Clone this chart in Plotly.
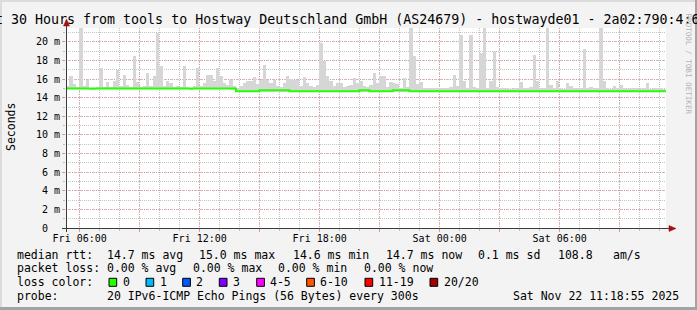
import plotly.graph_objects as go
import pandas as pd

# ---------------- data ----------------
start_time = "2025-11-21 05:18:55"
end_time = "2025-11-22 11:18:55"
step = "10min"

# top of the smoke (max ping per 10-minute step), ms
smoke_max = [
    15.3, 16.3, 15.5, 15.2, 22.5, 15.3, 15.9, 15.1, 15.1, 15.2,
    17.2, 15.2, 15.7, 15.2, 15.8, 17.0, 15.3, 16.5, 15.4, 15.2,
    18.5, 15.7, 15.2, 15.3, 16.7, 15.3, 16.3, 21.0, 17.4, 15.3,
    15.8, 15.6, 15.2, 15.3, 15.2, 17.4, 15.2, 15.1, 15.3, 17.2,
    15.3, 15.6, 16.5, 16.5, 15.8, 17.2, 16.3, 15.6, 15.4, 15.9,
    15.3, 15.0, 15.3, 15.6, 15.8, 15.8, 16.2, 15.5, 15.9, 17.5,
    15.9, 15.6, 15.9, 15.3, 15.2, 15.6, 16.3, 16.0, 15.9, 15.9,
    15.3, 16.2, 15.6, 15.3, 15.2, 15.4, 19.9, 18.0, 16.3, 15.8,
    15.3, 15.6, 15.6, 15.2, 15.3, 15.4, 16.1, 15.6, 15.8, 15.3,
    15.2, 15.4, 16.7, 15.6, 16.3, 16.3, 15.2, 15.7, 15.6, 15.5,
    15.1, 16.1, 15.2, 22.5, 18.5, 15.5, 15.7, 15.1, 15.0, 15.0,
    15.1, 15.0, 15.0, 15.0, 15.1, 15.2, 16.5, 15.3, 20.8, 15.8,
    15.1, 20.8, 15.2, 15.0, 18.8, 22.5, 15.1, 15.8, 19.0, 15.2,
    15.0, 15.0, 15.0, 14.9, 15.0, 15.0, 15.7, 15.1, 15.0, 15.2,
    18.6, 15.8, 15.1, 15.0, 22.5, 15.4, 15.0, 15.8, 15.0, 14.9,
    15.6, 15.3, 15.0, 15.0, 15.1, 19.2, 15.1, 15.2, 15.0, 15.0,
    22.5, 15.8, 15.0, 14.9, 15.3, 15.1, 15.4, 15.0, 14.9, 15.0,
    15.0, 15.0, 14.9, 15.0, 15.6, 14.9, 15.0, 15.0, 15.0, 14.9,
]

# bottom of the smoke (min ping per step), ms
smoke_min = [
    14.9, 14.9, 14.9, 14.9, 14.9, 14.9, 14.9, 14.9, 14.9, 14.9,
    14.9, 14.9, 14.9, 14.9, 14.9, 14.9, 14.9, 14.9, 14.9, 14.9,
    14.9, 14.9, 14.9, 14.9, 14.9, 14.9, 14.9, 14.9, 14.9, 14.9,
    14.9, 14.9, 14.9, 14.9, 14.9, 14.9, 14.9, 14.9, 14.9, 14.9,
    14.9, 14.9, 14.9, 14.9, 14.9, 14.9, 14.9, 14.9, 14.9, 14.9,
    14.9, 14.6, 14.6, 14.6, 14.6, 14.6, 14.6, 14.6, 14.6, 14.6,
    14.6, 14.6, 14.6, 14.6, 14.6, 14.6, 14.6, 14.6, 14.6, 14.6,
    14.6, 14.6, 14.6, 14.6, 14.6, 14.6, 14.6, 14.6, 14.6, 14.6,
    14.6, 14.6, 14.6, 14.6, 14.6, 14.6, 14.6, 14.6, 14.6, 14.6,
    14.6, 14.6, 14.6, 14.6, 14.6, 14.6, 14.6, 14.6, 14.6, 14.6,
    14.6, 14.6, 14.6, 14.6, 14.6, 14.6, 14.6, 14.6, 14.6, 14.6,
    14.6, 14.6, 14.6, 14.6, 14.6, 14.6, 14.6, 14.6, 14.6, 14.6,
    14.6, 14.6, 14.6, 14.6, 14.6, 14.6, 14.6, 14.6, 14.6, 14.6,
    14.6, 14.6, 14.6, 14.6, 14.6, 14.6, 14.6, 14.6, 14.6, 14.6,
    14.6, 14.6, 14.6, 14.6, 14.6, 14.6, 14.6, 14.6, 14.6, 14.6,
    14.6, 14.6, 14.6, 14.6, 14.6, 14.6, 14.6, 14.6, 14.6, 14.6,
    14.6, 14.6, 14.6, 14.6, 14.6, 14.6, 14.6, 14.6, 14.6, 14.6,
    14.6, 14.6, 14.6, 14.6, 14.6, 14.6, 14.6, 14.6, 14.6, 14.6,
]

# median rtt per step, ms
median_rtt = [
    15.0, 15.0, 15.0, 15.0, 15.0, 15.0, 15.0, 15.0, 15.0, 15.0,
    15.0, 15.0, 15.0, 15.0, 15.0, 15.0, 15.0, 15.0, 15.0, 15.0,
    15.0, 15.0, 15.0, 15.0, 15.0, 15.0, 15.0, 15.0, 15.0, 15.0,
    15.0, 15.0, 15.0, 15.0, 15.0, 15.0, 15.0, 15.0, 15.0, 15.0,
    15.0, 15.0, 15.0, 15.0, 15.0, 15.0, 15.0, 15.0, 15.0, 15.0,
    15.0, 14.7, 14.7, 14.7, 14.7, 14.7, 14.7, 14.7, 14.8, 14.8,
    14.8, 14.8, 14.8, 14.8, 14.8, 14.8, 14.8, 14.7, 14.7, 14.7,
    14.7, 14.7, 14.7, 14.7, 14.7, 14.7, 14.7, 14.7, 14.7, 14.7,
    14.7, 14.7, 14.7, 14.7, 14.7, 14.7, 14.7, 14.7, 14.8, 14.8,
    14.8, 14.7, 14.7, 14.7, 14.7, 14.7, 14.7, 14.7, 14.8, 14.8,
    14.8, 14.8, 14.8, 14.7, 14.7, 14.7, 14.7, 14.7, 14.7, 14.7,
    14.7, 14.7, 14.7, 14.7, 14.7, 14.7, 14.7, 14.7, 14.7, 14.7,
    14.7, 14.7, 14.7, 14.7, 14.7, 14.7, 14.7, 14.7, 14.7, 14.7,
    14.7, 14.7, 14.7, 14.7, 14.7, 14.7, 14.7, 14.7, 14.7, 14.7,
    14.7, 14.7, 14.7, 14.7, 14.7, 14.7, 14.7, 14.7, 14.7, 14.7,
    14.7, 14.7, 14.7, 14.7, 14.7, 14.7, 14.7, 14.7, 14.7, 14.7,
    14.7, 14.7, 14.7, 14.7, 14.7, 14.7, 14.7, 14.7, 14.7, 14.7,
    14.7, 14.7, 14.7, 14.7, 14.7, 14.7, 14.7, 14.7, 14.7, 14.7,
]

x_tick_times = ["2025-11-21 06:00", "2025-11-21 09:00", "2025-11-21 12:00",
                "2025-11-21 15:00", "2025-11-21 18:00", "2025-11-21 21:00",
                "2025-11-22 00:00", "2025-11-22 03:00", "2025-11-22 06:00",
                "2025-11-22 09:00"]
x_tick_labels = ["Fri 06:00", "", "Fri 12:00", "", "Fri 18:00", "",
                 "Sat 00:00", "", "Sat 06:00", ""]
y_tick_values = [0, 2, 4, 6, 8, 10, 12, 14, 16, 18, 20]
y_tick_labels = ["0\u00a0\u00a0", "2 m", "4 m", "6 m", "8 m", "10 m", "12 m",
                 "14 m", "16 m", "18 m", "20 m"]

title_text = "Last 30 Hours from tools to Hostway Deutschland GmbH (AS24679) - hostwayde01 - 2a02:790:4:6"
y_title = "Seconds"

legend_lines = [
    ("median rtt:", ["14.7 ms avg", "15.0 ms max", "14.6 ms min", "14.7 ms now",
                     "0.1 ms sd", "108.8", "am/s"]),
    ("packet loss:", ["0.00 % avg", "0.00 % max", "0.00 % min", "0.00 % now"]),
]
loss_labels = ["0", "1", "2", "3", "4-5", "6-10", "11-19", "20/20"]
loss_colors = ["#26ff00", "#00b8ff", "#0059ff", "#7e00ff", "#ff00ff",
               "#ff5500", "#ff0000", "#a10000"]
probe_text = "20 IPv6-ICMP Echo Pings (56 Bytes) every 300s"
date_text = "Sat Nov 22 11:18:55 2025"

# ---------------- layout geometry (pixels) ----------------
FW, FH = 697, 310
L, T, W, H = 66, 28, 600, 200
MONO = "DejaVu Sans Mono"


def px(x):
    return (x - L) / W


def py(y):
    return (T + H - y) / H


times = pd.date_range(start_time, periods=len(smoke_max), freq=step)
centers = times + pd.Timedelta(step) / 2
heights = [hi - lo for hi, lo in zip(smoke_max, smoke_min)]
line_x = list(times) + [pd.Timestamp(end_time)]
line_y = median_rtt + [median_rtt[-1]]

fig = go.Figure()
fig.add_trace(go.Bar(
    x=centers, y=heights, base=smoke_min,
    width=pd.Timedelta(step).total_seconds() * 1000,
    marker=dict(color="#d6d6d6", line=dict(width=0)),
    hoverinfo="skip", showlegend=False))
fig.add_trace(go.Scatter(
    x=line_x, y=line_y, mode="lines", line=dict(color="#26ff00", width=2, shape="hv"),
    hoverinfo="skip", showlegend=False))

grid_red = "rgba(228,110,110,0.6)"
grid_gray = "rgba(175,175,175,0.75)"

fig.update_layout(
    width=FW, height=FH,
    margin=dict(l=L, r=FW - L - W, t=T, b=FH - T - H, pad=0),
    paper_bgcolor="#f3f3f3", plot_bgcolor="#ffffff",
    bargap=0, showlegend=False,
    font=dict(family=MONO, size=10, color="#000000"),
    xaxis=dict(
        type="date", range=[start_time, end_time],
        tickmode="array", tickvals=x_tick_times, ticktext=x_tick_labels,
        showgrid=True, gridcolor=grid_red, griddash="1px,2px", gridwidth=1,
        ticks="outside", ticklen=3, tickcolor=grid_red, tickwidth=1,
        ticklabelstandoff=-2,
        tickfont=dict(family=MONO, size=10, color="#000"),
        minor=dict(tickmode="linear", tick0="2025-11-21 00:00", dtick=3600000,
                   showgrid=True, gridcolor=grid_gray, griddash="1px,1px",
                   ticks="outside", ticklen=2, tickcolor=grid_gray),
        showline=False, zeroline=False, fixedrange=True,
    ),
    yaxis=dict(
        range=[0, 21.5],
        tickmode="array", tickvals=y_tick_values, ticktext=y_tick_labels,
        showgrid=True, gridcolor=grid_red, griddash="1px,2px", gridwidth=1,
        ticks="outside", ticklen=3, tickcolor=grid_red,
        tickfont=dict(family=MONO, size=10, color="#000"),
        minor=dict(tickmode="linear", tick0=0, dtick=1,
                   showgrid=True, gridcolor=grid_gray, griddash="1px,1px",
                   ticks="outside", ticklen=2, tickcolor=grid_gray),
        showline=False, zeroline=False, fixedrange=True,
    ),
)

shapes = []
# frame shading
shapes.append(dict(type="rect", xref="paper", yref="paper", x0=px(0), x1=px(FW), y0=py(0), y1=py(2),
                   fillcolor="#dcdcdc", line=dict(width=0), layer="below"))
shapes.append(dict(type="rect", xref="paper", yref="paper", x0=px(0), x1=px(2), y0=py(0), y1=py(FH),
                   fillcolor="#dcdcdc", line=dict(width=0), layer="below"))
shapes.append(dict(type="rect", xref="paper", yref="paper", x0=px(0), x1=px(FW), y0=py(307), y1=py(FH),
                   fillcolor="#a3a3a3", line=dict(width=0), layer="below"))
shapes.append(dict(type="rect", xref="paper", yref="paper", x0=px(695), x1=px(FW), y0=py(0), y1=py(FH),
                   fillcolor="#a3a3a3", line=dict(width=0), layer="below"))
# axes
shapes.append(dict(type="line", xref="paper", yref="paper", x0=px(62), x1=px(670), y0=py(228.5), y1=py(228.5),
                   line=dict(color="#3c3c3c", width=1)))
shapes.append(dict(type="line", xref="paper", yref="paper", x0=px(66.5), x1=px(66.5), y0=py(232), y1=py(25),
                   line=dict(color="#3c3c3c", width=1)))
# arrow heads
ax, ay = 669, 228.5
shapes.append(dict(type="path", xref="paper", yref="paper",
                   path=f"M {px(ax)} {py(ay-3)} L {px(ax+7)} {py(ay)} L {px(ax)} {py(ay+3)} Z",
                   fillcolor="#a01010", line=dict(color="#a01010", width=0.5)))
bx, by = 66.5, 26
shapes.append(dict(type="path", xref="paper", yref="paper",
                   path=f"M {px(bx-3)} {py(by)} L {px(bx)} {py(by-7)} L {px(bx+3)} {py(by)} Z",
                   fillcolor="#a01010", line=dict(color="#a01010", width=0.5)))

annotations = []


def text(x, y, s, size=11.5, anchor="left", color="#000", angle=0):
    annotations.append(dict(
        xref="paper", yref="paper", x=px(x), y=py(y), text=s.replace("  ", "\u00a0\u00a0"),
        showarrow=False, xanchor=anchor, yanchor="middle", textangle=angle,
        borderpad=0, borderwidth=0,
        font=dict(family=MONO, size=size, color=color)))


# title
text(-28.7, 19.0, title_text, size=13.3)
# watermark
annotations.append(dict(xref="paper", yref="paper", x=px(688.5), y=py(64), text="RRDTOOL / TOBI OETIKER",
                        showarrow=False, textangle=90, xanchor="center", yanchor="middle",
                        borderpad=0, font=dict(family=MONO, size=7.6, color="#b4b4b4")))
# y axis title
annotations.append(dict(xref="paper", yref="paper", x=px(10.5), y=py(127.5), text=y_title,
                        showarrow=False, textangle=-90, xanchor="center", yanchor="middle",
                        borderpad=0, font=dict(family=MONO, size=11.5, color="#000")))

# legend lines
line_ys = [254.7, 268.3, 281.7, 295.7]
seg_x = [
    [107.3, 200, 293.3, 386.7, 479, 558.3, 614],
    [107.3, 194, 278.3, 365],
]
for (head, segs), xs, ly in zip(legend_lines, seg_x, line_ys):
    text(16.6, ly, head)
    for s, x in zip(segs, xs):
        text(x - 0.6, ly, s)

text(16.6, line_ys[2], "loss color:")
box_x = [109, 146, 182.7, 219.3, 256.7, 306.7, 365, 430]
for bxx, lab, col in zip(box_x, loss_labels, loss_colors):
    shapes.append(dict(type="rect", xref="paper", yref="paper",
                       x0=px(bxx), x1=px(bxx + 7.7), y0=py(278.3), y1=py(286.3),
                       fillcolor=col, line=dict(color="#000", width=1)))
    text(bxx + 13.6, line_ys[2], lab)

text(16.6, line_ys[3], "probe:")
text(106.7, line_ys[3], probe_text)
text(512.7, line_ys[3], date_text)

fig.update_layout(shapes=shapes, annotations=annotations)
fig.write_html("out.html")
